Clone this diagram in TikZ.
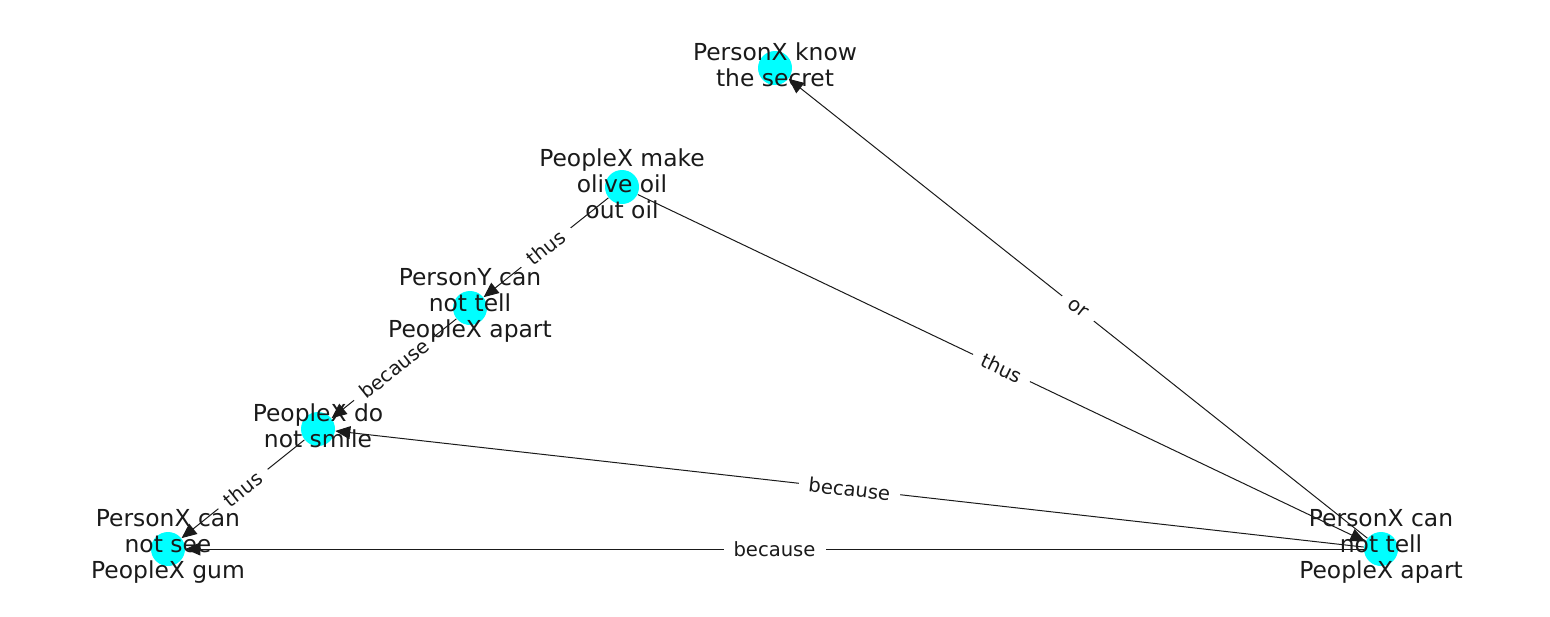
\documentclass[tikz,border=0pt]{standalone}
\usepackage{fontspec}
\setmainfont{DejaVu Sans}
\usetikzlibrary{arrows.meta}
\pgfdeclarelayer{bg}
\pgfsetlayers{bg,main}
\definecolor{nodecyan}{RGB}{0,255,255}
\definecolor{ink}{RGB}{26,26,26}
\begin{document}
\begin{tikzpicture}[x=0.5pt,y=-0.5pt,
  vtx/.style={circle,fill=nodecyan,minimum size=17pt,inner sep=0pt},
  lbl/.style={align=center,font=\fontsize{11.7}{13}\selectfont,text=ink,inner sep=0pt,yshift=1.5pt},
  edge/.style={draw=ink,line width=0.5pt,-{Triangle[length=7.5pt,width=6.5pt]}},
  elbl/.style={fill=white,font=\fontsize{9.8}{11}\selectfont,text=ink,inner xsep=5pt,inner ysep=3.5pt,sloped,midway}]
\useasboundingbox (0,0) rectangle (1550,616);
\node[vtx] (A) at (775,68) {};
\node[vtx] (B) at (622,187) {};
\node[vtx] (C) at (470,308) {};
\node[vtx] (D) at (318,429) {};
\node[vtx] (E) at (168,549) {};
\node[vtx] (F) at (1381,549) {};
\begin{pgfonlayer}{bg}
\draw[edge] (B) -- node[elbl] {thus} (C);
\draw[edge] (C) -- node[elbl] {because} (D);
\draw[edge] (D) -- node[elbl] {thus} (E);
\draw[edge] (F) -- node[elbl] {because} (E);
\draw[edge] (F) -- node[elbl] {because} (D);
\draw[edge] (B) -- node[elbl] {thus} (F);
\draw[edge] (F) -- node[elbl] {or} (A);
\end{pgfonlayer}
\node[lbl] (tA) at (A) {PersonX know\\the secret};
\node[lbl] (tB) at (B) {PeopleX make\\olive oil\\out oil};
\node[lbl] (tC) at (C) {PersonY can\\not tell\\PeopleX apart};
\node[lbl] (tD) at (D) {PeopleX do\\not smile};
\node[lbl] (tE) at (E) {PersonX can\\not see\\PeopleX gum};
\node[lbl] (tF) at (F) {PersonX can\\not tell\\PeopleX apart};
\end{tikzpicture}
\end{document}
